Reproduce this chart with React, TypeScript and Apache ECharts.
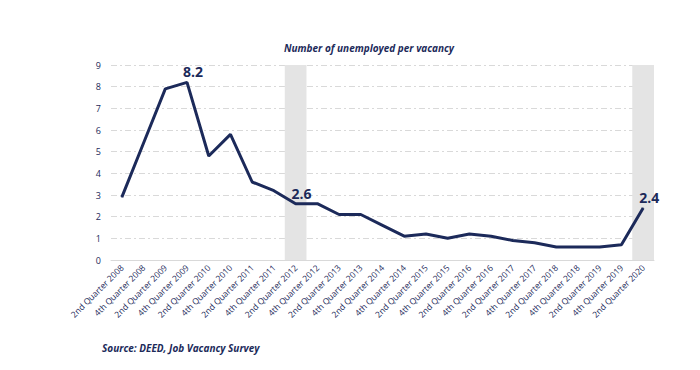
import React, { useEffect, useRef } from "react";
import * as echarts from "echarts";

const categories = [
  "2nd Quarter 2008", "4th Quarter 2008", "2nd Quarter 2009", "4th Quarter 2009",
  "2nd Quarter 2010", "4th Quarter 2010", "2nd Quarter 2011", "4th Quarter 2011",
  "2nd Quarter 2012", "4th Quarter 2012", "2nd Quarter 2013", "4th Quarter 2013",
  "2nd Quarter 2014", "4th Quarter 2014", "2nd Quarter 2015", "4th Quarter 2015",
  "2nd Quarter 2016", "4th Quarter 2016", "2nd Quarter 2017", "4th Quarter 2017",
  "2nd Quarter 2018", "4th Quarter 2018", "2nd Quarter 2019", "4th Quarter 2019",
  "2nd Quarter 2020",
];

const unemployedPerVacancy = [
  2.9, 5.4, 7.9, 8.2, 4.8, 5.8, 3.6, 3.2, 2.6, 2.6, 2.1, 2.1, 1.6, 1.1, 1.2, 1.0,
  1.2, 1.1, 0.9, 0.8, 0.6, 0.6, 0.6, 0.7, 2.4,
];

const labeledCategories = ["4th Quarter 2009", "2nd Quarter 2012", "2nd Quarter 2020"];
const shadedCategories = ["2nd Quarter 2012", "2nd Quarter 2020"];
const shadeValue = 9;

const yTicks = { min: 0, max: 9, interval: 1 };

const NAVY = "#1c2a5a";

export default function App() {
  const ref = useRef<HTMLDivElement>(null);

  useEffect(() => {
    if (!ref.current) return;
    const chart = echarts.init(ref.current, undefined, { renderer: "svg" });
    const lineData = unemployedPerVacancy.map((v, i) => ({
      value: v,
      label: {
        show: labeledCategories.includes(categories[i]),
        position: "top",
        distance: 3,
        offset: [6, 0],
        fontSize: 14,
        fontWeight: "bold",
        color: NAVY,
        fontFamily: "Open Sans",
        formatter: (p: any) => Number(p.value).toFixed(1),
      },
    }));
    const shadeData = categories.map((c) => (shadedCategories.includes(c) ? shadeValue : null));

    chart.setOption({
      animation: false,
      title: {
        text: "Number of unemployed per vacancy",
        left: 364,
        top: 38,
        textAlign: "center",
        textStyle: {
          fontSize: 10,
          fontStyle: "italic",
          fontWeight: "bold",
          color: NAVY,
          fontFamily: "Open Sans",
        },
      },
      graphic: [
        {
          type: "text",
          left: 102,
          top: 343,
          style: {
            text: "Source: DEED, Job Vacancy Survey",
            fontSize: 10,
            fontStyle: "italic",
            fontWeight: "bold",
            fill: NAVY,
            fontFamily: "Open Sans",
          },
        },
      ],
      grid: { left: 111, right: 46, top: 65, bottom: 110, containLabel: false },
      xAxis: {
        type: "category",
        data: categories,
        boundaryGap: true,
        axisLine: { show: true, lineStyle: { color: "#d9d9d9", width: 1 } },
        axisTick: { show: false },
        axisLabel: {
          interval: 0,
          rotate: 45,
          fontSize: 8.5,
          color: NAVY,
          fontFamily: "Open Sans",
          margin: 6,
        },
      },
      yAxis: {
        type: "value",
        min: yTicks.min,
        max: yTicks.max,
        interval: yTicks.interval,
        axisLine: { show: false },
        axisTick: { show: false },
        axisLabel: { fontSize: 9, color: NAVY, fontFamily: "Open Sans", margin: 10 },
        splitLine: { lineStyle: { color: "#d9d9d9", type: [6, 3, 2, 3], width: 1 } },
      },
      series: [
        {
          type: "bar",
          data: shadeData,
          barWidth: "100%",
          itemStyle: { color: "#e4e4e4" },
          silent: true,
          z: 1,
        },
        {
          type: "line",
          data: lineData,
          symbol: "circle",
          showSymbol: true,
          symbolSize: 1,
          itemStyle: { color: NAVY },
          lineStyle: { color: NAVY, width: 3 },
          z: 3,
        },
      ],
    });
    return () => chart.dispose();
  }, []);

  return (
    <div
      ref={ref}
      style={{ position: "fixed", left: 0, top: 0, width: 700, height: 370, background: "#fff" }}
    />
  );
}
